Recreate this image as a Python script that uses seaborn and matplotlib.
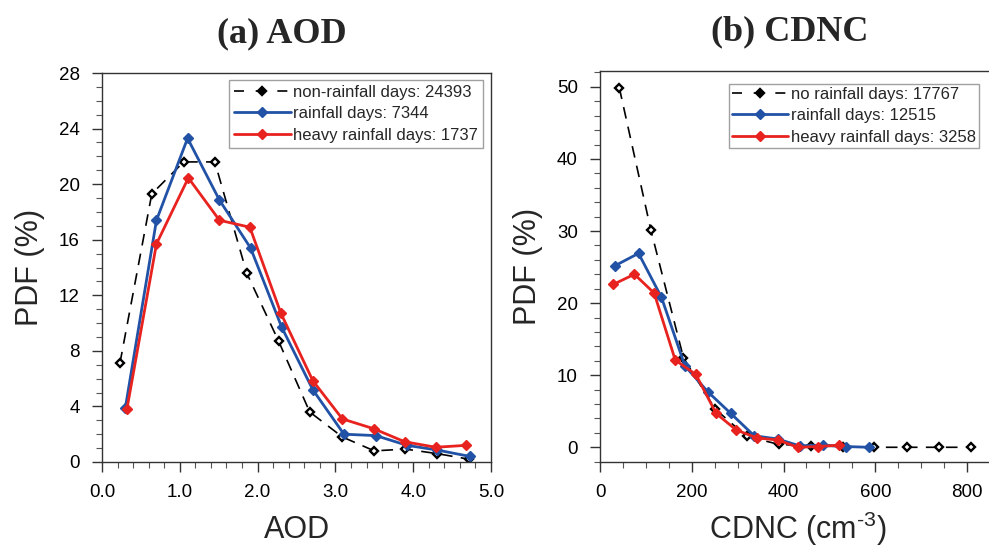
import matplotlib
matplotlib.use('Agg')
import matplotlib.pyplot as plt
import seaborn as sns
import pandas as pd
from matplotlib.ticker import MultipleLocator
from matplotlib.lines import Line2D

# (a) AOD
aod_x_non = [0.23, 0.64, 1.05, 1.45, 1.86, 2.27, 2.67, 3.09, 3.50, 3.90, 4.31, 4.72]
aod_pdf_non = [7.1, 19.3, 21.6, 21.6, 13.6, 8.7, 3.6, 1.8, 0.8, 0.93, 0.6, 0.2]
aod_x_rain = [0.30, 0.70, 1.10, 1.51, 1.91, 2.31, 2.71, 3.11, 3.52, 3.92, 4.31, 4.73]
aod_pdf_rain = [3.9, 17.4, 23.3, 18.85, 15.4, 9.7, 5.2, 2.0, 1.9, 1.2, 0.86, 0.4]
aod_x_heavy = [0.32, 0.70, 1.11, 1.51, 1.90, 2.30, 2.71, 3.09, 3.49, 3.89, 4.29, 4.68]
aod_pdf_heavy = [3.8, 15.7, 20.45, 17.4, 16.9, 10.7, 5.85, 3.1, 2.4, 1.46, 1.06, 1.2]

# (b) CDNC
cdnc_x_non = [42, 111, 182, 251, 320, 390, 460, 529, 598, 669, 738, 808]
cdnc_pdf_non = [49.9, 30.1, 12.4, 5.3, 1.5, 0.4, 0.2, 0.1, 0.0, 0.0, 0.0, 0.0]
cdnc_x_rain = [33, 84, 134, 185, 235, 285, 336, 387, 435, 487, 536, 587]
cdnc_pdf_rain = [25.2, 26.9, 20.8, 11.3, 7.7, 4.7, 1.6, 1.15, 0.2, 0.3, 0.1, 0.0]
cdnc_x_heavy = [29, 75, 118, 164, 209, 253, 297, 342, 388, 431, 476, 521]
cdnc_pdf_heavy = [22.6, 24.0, 21.4, 12.1, 10.1, 4.7, 2.4, 1.3, 1.0, 0.0, 0.1, 0.3]

labels_a = ["non-rainfall days: 24393", "rainfall days: 7344", "heavy rainfall days: 1737"]
labels_b = ["no rainfall days: 17767", "rainfall days: 12515", "heavy rainfall days: 3258"]

BLUE = "#2152a6"
RED = "#e8231f"

sns.set_style("ticks")
plt.rcParams['font.family'] = ['Liberation Sans', 'DejaVu Sans']
plt.rcParams['mathtext.fontset'] = 'custom'
plt.rcParams['mathtext.rm'] = 'Liberation Sans'

fig = plt.figure(figsize=(9.89, 5.46), dpi=100)
W, H = 989, 546
ax1 = fig.add_axes([102 / W, (H - 462) / H, 389 / W, 389 / H])
ax2 = fig.add_axes([600 / W, (H - 461.7) / H, 395 / W, 390.7 / H])


def draw(ax, xs, ys, labels, bpad, anchor):
    styles = [
        dict(color="black", lw=1.2, dashes=(7, 5), mfc="white", mec="black", mew=1.7, ms=4.5),
        dict(color=BLUE, lw=2.0, dashes=(None, None), mfc=BLUE, mec=BLUE, mew=1.0, ms=5),
        dict(color=RED, lw=2.0, dashes=(None, None), mfc=RED, mec=RED, mew=1.0, ms=5),
    ]
    handles = []
    for x, y, lab, st in zip(xs, ys, labels, styles):
        df = pd.DataFrame({"x": x, "y": y})
        sns.lineplot(data=df, x="x", y="y", ax=ax, sort=False, color=st["color"],
                     linewidth=st["lw"], marker="D", markersize=st["ms"],
                     markerfacecolor=st["mfc"], markeredgecolor=st["mec"],
                     markeredgewidth=st["mew"], legend=False)
        ln = ax.lines[-1]
        if st["dashes"][0] is not None:
            ln.set_dashes(st["dashes"])
        h = Line2D([], [], color=st["color"], lw=st["lw"], marker="D", ms=st["ms"],
                   mfc=st["mfc"] if st["mfc"] != "white" else "black", mec=st["mec"],
                   mew=st["mew"])
        if st["dashes"][0] is not None:
            h.set_dashes((6, 7))
        handles.append(h)
    leg = ax.legend(handles, labels, loc="upper right", fontsize=12, frameon=True,
                    fancybox=False, edgecolor="#888888", handlelength=3.4,
                    handletextpad=0.15, borderpad=bpad, labelspacing=0.38,
                    borderaxespad=0, bbox_to_anchor=anchor, bbox_transform=ax.transAxes)
    leg.get_frame().set_linewidth(1.0)
    for sp in ax.spines.values():
        sp.set_color("#333333")
        sp.set_linewidth(1.0)
    ax.tick_params(which="major", direction="out", length=7, width=1, labelsize=13.5,
                   color="#333333", pad=9, labelcolor="black")
    ax.tick_params(which="minor", direction="out", length=4, width=0.8, color="#555555")
    ax.set_ylabel("PDF (%)", fontsize=22, labelpad=10)


draw(ax1, [aod_x_non, aod_x_rain, aod_x_heavy],
     [aod_pdf_non, aod_pdf_rain, aod_pdf_heavy], labels_a, 0.3,
     (1 - (491 - 483) / 389, 1 - (80 - 73) / 389))
ax1.set_xlim(0, 5)
ax1.set_ylim(0, 28)
ax1.xaxis.set_major_locator(MultipleLocator(1))
ax1.xaxis.set_minor_locator(MultipleLocator(0.2))
ax1.yaxis.set_major_locator(MultipleLocator(4))
ax1.yaxis.set_minor_locator(MultipleLocator(1))
ax1.set_xticklabels([f"{v:.1f}" for v in ax1.get_xticks()])
ax1.set_xlabel("AOD", fontsize=22, labelpad=10)
ax1.set_title("(a) AOD", fontsize=26, fontweight="bold", family="Liberation Serif",
              pad=22, x=(282 - 102) / 389)

draw(ax2, [cdnc_x_non, cdnc_x_rain, cdnc_x_heavy],
     [cdnc_pdf_non, cdnc_pdf_rain, cdnc_pdf_heavy], labels_b, 0.18,
     (1 - (995 - 979) / 395, 1 - (83 - 70) / 390.7))
ax2.set_xlim(0, 861)
ax2.set_ylim(-2, 52.2)
ax2.xaxis.set_major_locator(MultipleLocator(200))
ax2.xaxis.set_minor_locator(MultipleLocator(50))
ax2.yaxis.set_major_locator(MultipleLocator(10))
ax2.yaxis.set_minor_locator(MultipleLocator(2))
ax2.set_xlabel(r"CDNC (cm$^{\text{-}3}$)", fontsize=22, labelpad=6)
ax2.set_title("(b) CDNC", fontsize=26, fontweight="bold", family="Liberation Serif",
              pad=22, x=(790 - 600) / 395)

fig.savefig("out.png", dpi=100)
